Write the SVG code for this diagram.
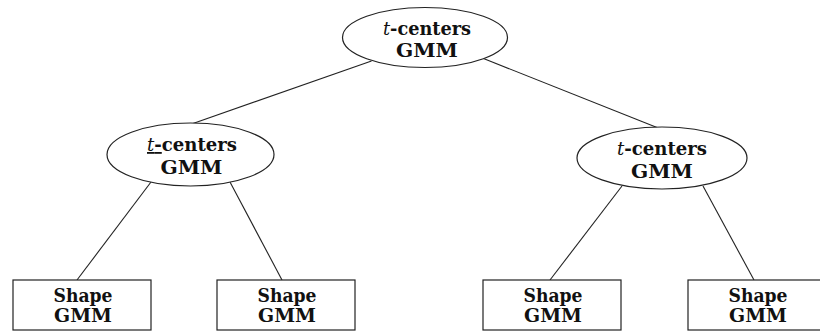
<svg xmlns="http://www.w3.org/2000/svg" width="820" height="331" viewBox="0 0 820 331">
<style>
.n{fill:#fff;stroke:#222;stroke-width:1.2}
.e{stroke:#222;stroke-width:1.1;fill:none}
.t{font-family:"DejaVu Serif","Liberation Serif",serif;font-weight:bold;font-size:18px;fill:#111;text-anchor:middle}
.m{font-style:italic;font-weight:normal}
</style>
<rect width="820" height="331" fill="#fff"/>
<g id="edges">
<line class="e" x1="371.5" y1="61" x2="193" y2="123.5"/>
<line class="e" x1="483.5" y1="58.5" x2="657" y2="127.5"/>
<line class="e" x1="151" y1="182" x2="77" y2="280"/>
<line class="e" x1="230" y1="182" x2="282" y2="280"/>
<line class="e" x1="622" y1="186" x2="550" y2="280"/>
<line class="e" x1="703" y1="186" x2="754" y2="280"/>
</g>
<g id="root">
<ellipse class="n" cx="425" cy="37.5" rx="82.5" ry="30"/>
<text class="t" x="427" y="35" textLength="88" lengthAdjust="spacingAndGlyphs"><tspan class="m">t</tspan>-centers</text>
<text class="t" x="427" y="57" textLength="62" lengthAdjust="spacingAndGlyphs">GMM</text>
</g>
<g id="left">
<ellipse class="n" cx="190.5" cy="154.5" rx="83.5" ry="31.5"/>
<text class="t" x="192" y="151" textLength="90" lengthAdjust="spacingAndGlyphs"><tspan class="m" text-decoration="underline">t</tspan><tspan text-decoration="underline">-</tspan>centers</text>
<text class="t" x="191.5" y="173.5" textLength="62" lengthAdjust="spacingAndGlyphs">GMM</text>
</g>
<g id="right">
<ellipse class="n" cx="662" cy="158" rx="85" ry="31"/>
<text class="t" x="662" y="155" textLength="90" lengthAdjust="spacingAndGlyphs"><tspan class="m">t</tspan>-centers</text>
<text class="t" x="662" y="177.5" textLength="62" lengthAdjust="spacingAndGlyphs">GMM</text>
</g>
<g id="leaf1">
<rect class="n" x="13" y="280" width="138" height="50"/>
<text class="t" x="83" y="301.5" textLength="59" lengthAdjust="spacingAndGlyphs">Shape</text>
<text class="t" x="83" y="322" textLength="58" lengthAdjust="spacingAndGlyphs">GMM</text>
</g>
<g id="leaf2">
<rect class="n" x="217" y="280" width="138" height="50"/>
<text class="t" x="287" y="301.5" textLength="59" lengthAdjust="spacingAndGlyphs">Shape</text>
<text class="t" x="287" y="322" textLength="58" lengthAdjust="spacingAndGlyphs">GMM</text>
</g>
<g id="leaf3">
<rect class="n" x="483" y="280" width="138" height="50"/>
<text class="t" x="553" y="301.5" textLength="59" lengthAdjust="spacingAndGlyphs">Shape</text>
<text class="t" x="553" y="322" textLength="58" lengthAdjust="spacingAndGlyphs">GMM</text>
</g>
<g id="leaf4">
<rect class="n" x="688" y="280" width="138" height="50"/>
<text class="t" x="758" y="301.5" textLength="59" lengthAdjust="spacingAndGlyphs">Shape</text>
<text class="t" x="758" y="322" textLength="58" lengthAdjust="spacingAndGlyphs">GMM</text>
</g>
</svg>
